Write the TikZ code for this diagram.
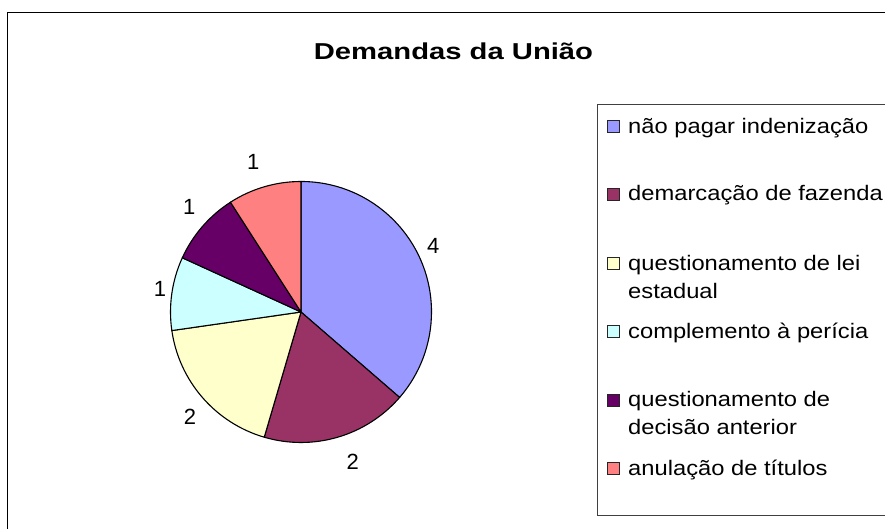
\documentclass[tikz,border=0pt]{standalone}
\usepackage{fontspec}
\setmainfont{Liberation Sans}
\newfontfamily\legfont{Liberation Sans}[FakeStretch=1.13]
\newfontfamily\titfont{Liberation Sans}[FakeStretch=1.27]
\definecolor{sA}{HTML}{9999FF}
\definecolor{sB}{HTML}{993366}
\definecolor{sC}{HTML}{FFFFCC}
\definecolor{sD}{HTML}{CCFFFF}
\definecolor{sE}{HTML}{660066}
\definecolor{sF}{HTML}{FF8080}
\tikzset{
  slice/.style={draw=black, line width=1.1pt, line join=round},
  legsq/.style={draw=black!85, line width=0.9pt, minimum size=12pt, inner sep=0pt},
  legtxt/.style={anchor=base west, inner sep=0pt, font=\legfont\fontsize{21}{28}\selectfont},
  lbl/.style={inner sep=0pt, font=\fontsize{22}{26}\selectfont}
}
\begin{document}
\begin{tikzpicture}[x=1pt,y=1pt]
\useasboundingbox (0,0) rectangle (885,529);
\fill[white] (0,0) rectangle (885,529);
% outer chart frame
\draw[line width=1.2pt] (7.5,516.5) rectangle (900,-10);
% title
\node[anchor=base, inner sep=0pt, font=\titfont\bfseries\fontsize{23}{28}\selectfont] (title) at (453.5,469.7) {Demandas da União};
% pie
\coordinate (C) at (301,217);
\def\R{130.5}
\draw[slice, fill=sA] (C) -- ++(90:\R) arc[start angle=90, end angle=-40.909, radius=\R] -- cycle;
\draw[slice, fill=sB] (C) -- ++(-40.909:\R) arc[start angle=-40.909, end angle=-106.364, radius=\R] -- cycle;
\draw[slice, fill=sC] (C) -- ++(-106.364:\R) arc[start angle=-106.364, end angle=-171.818, radius=\R] -- cycle;
\draw[slice, fill=sD] (C) -- ++(-171.818:\R) arc[start angle=-171.818, end angle=-204.545, radius=\R] -- cycle;
\draw[slice, fill=sE] (C) -- ++(155.455:\R) arc[start angle=155.455, end angle=122.727, radius=\R] -- cycle;
\draw[slice, fill=sF] (C) -- ++(122.727:\R) arc[start angle=122.727, end angle=90, radius=\R] -- cycle;
% data labels
\node[lbl] (l1) at (433.3,283) {4};
\node[lbl] (l2) at (352.7,67.3) {2};
\node[lbl] (l3) at (190,112.3) {2};
\node[lbl] (l4) at (160,239.7) {1};
\node[lbl] (l5) at (189.3,322.3) {1};
\node[lbl] (l6) at (253.3,367.3) {1};
% legend
\draw[draw=black!75, line width=1pt] (597.5,424) rectangle (900,13.5);
\node[legsq, fill=sA] (k1) at (613,402.3) {};
\node[legsq, fill=sB] (k2) at (613,335) {};
\node[legsq, fill=sC] (k3) at (613,265.3) {};
\node[legsq, fill=sD] (k4) at (613,197.3) {};
\node[legsq, fill=sE] (k5) at (613,129) {};
\node[legsq, fill=sF] (k6) at (613,60.7) {};
\node[legtxt] (t1) at (628,395.3) {não pagar indenização};
\node[legtxt] (t2) at (628,328) {demarcação de fazenda};
\node[legtxt] (t3) at (628,258.3) {\parbox[t]{250pt}{questionamento de lei\\estadual}};
\node[legtxt] (t4) at (628,190.3) {complemento à perícia};
\node[legtxt] (t5) at (628,122) {\parbox[t]{250pt}{questionamento de\\decisão anterior}};
\node[legtxt] (t6) at (628,53.7) {anulação de títulos};
\end{tikzpicture}
\end{document}
